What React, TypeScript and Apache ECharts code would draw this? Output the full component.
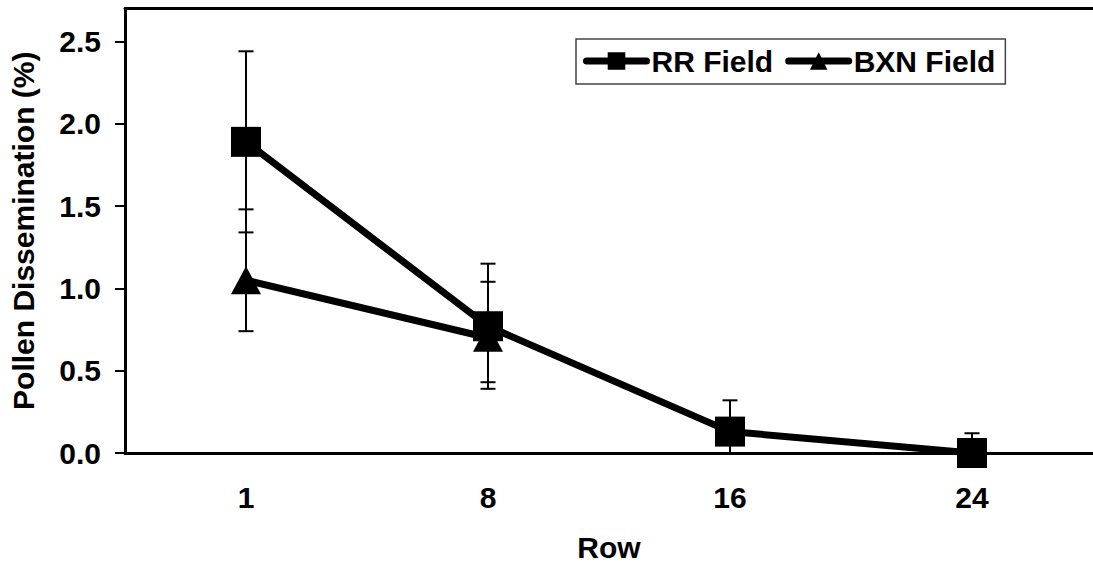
import React, { useEffect, useRef } from "react";
import * as echarts from "echarts";

const categories = ["1", "8", "16", "24"];
const yTickValues = [0, 0.5, 1.0, 1.5, 2.0, 2.5];

const rrValues = [1.89, 0.77, 0.13, 0.0];
const rrLow = [1.34, 0.39, 0.0, 0.0];
const rrHigh = [2.44, 1.15, 0.32, 0.12];

const bxnValues: (number | null)[] = [1.05, 0.7, null, null];
const bxnLow: (number | null)[] = [0.74, 0.43, null, null];
const bxnHigh: (number | null)[] = [1.48, 1.04, null, null];

const FONT = "'Liberation Sans', Arial, sans-serif";
const FS = 30;

function errData(low: (number | null)[], high: (number | null)[]) {
  const out: any[] = [];
  low.forEach((l, i) => {
    const h = high[i];
    if (l != null && h != null) out.push([i, l, h]);
  });
  return out;
}

const renderErr = (params: any, api: any) => {
  const x = api.value(0);
  const lo = api.coord([x, api.value(1)]);
  const hi = api.coord([x, api.value(2)]);
  const hw = 7.5;
  const style = { stroke: "#000", lineWidth: 2 };
  return {
    type: "group",
    children: [
      { type: "line", shape: { x1: hi[0], y1: hi[1], x2: lo[0], y2: lo[1] }, style },
      { type: "line", shape: { x1: hi[0] - hw, y1: hi[1], x2: hi[0] + hw, y2: hi[1] }, style },
      { type: "line", shape: { x1: lo[0] - hw, y1: lo[1], x2: lo[0] + hw, y2: lo[1] }, style },
    ],
  };
};

export default function App() {
  const ref = useRef<HTMLDivElement>(null);
  useEffect(() => {
    if (!ref.current) return;
    const chart = echarts.init(ref.current, null, { renderer: "svg" });
    const txt = { fontFamily: FONT, fontSize: FS, fontWeight: "bold", color: "#000" };
    chart.setOption({
      animation: false,
      backgroundColor: "#fff",
      textStyle: { fontFamily: FONT },
      grid: {
        left: 124,
        top: 8.5,
        bottom: 114,
        right: -2,
        show: false,
      },
      legend: {
        data: ["RR Field", "BXN Field"],
        left: 576,
        top: 39,
        orient: "horizontal",
        padding: [7, 10, 8, 7],
        borderColor: "#444",
        borderWidth: 1.5,
        backgroundColor: "#fff",
        itemWidth: 60,
        itemHeight: 22,
        itemGap: 12,
        lineStyle: { width: 7, cap: "round" },
        textStyle: txt,
      },
      xAxis: [
        {
          type: "category",
          data: categories,
          boundaryGap: true,
          name: "Row",
          nameLocation: "middle",
          nameGap: 79,
          nameTextStyle: txt,
          axisLine: { show: true, lineStyle: { color: "#000", width: 3 } },
          axisTick: { show: false },
          axisLabel: { ...txt, margin: 29 },
          splitLine: { show: false },
        },
        {
          type: "category",
          data: categories,
          position: "top",
          boundaryGap: true,
          axisLine: { show: true, lineStyle: { color: "#000", width: 3 } },
          axisTick: { show: false },
          axisLabel: { show: false },
          splitLine: { show: false },
        },
      ],
      yAxis: {
        type: "value",
        min: 0,
        max: 2.7,
        interval: 0.5,
        name: "Pollen Dissemination (%)",
        nameLocation: "middle",
        nameGap: 87,
        nameTextStyle: txt,
        axisLine: { show: true, lineStyle: { color: "#000", width: 3 } },
        axisTick: {
          show: true,
          length: 10,
          lineStyle: { color: "#000", width: 2 },
          customValues: yTickValues,
        },
        axisLabel: {
          ...txt,
          margin: 24,
          customValues: yTickValues,
          formatter: (v: number) => v.toFixed(1),
        },
        splitLine: { show: false },
      },
      series: [
        {
          type: "custom",
          name: "BXN err",
          renderItem: renderErr,
          data: errData(bxnLow, bxnHigh),
          z: 1,
          silent: true,
        },
        {
          type: "custom",
          name: "RR err",
          renderItem: renderErr,
          data: errData(rrLow, rrHigh),
          z: 1,
          silent: true,
        },
        {
          type: "line",
          name: "BXN Field",
          data: bxnValues,
          symbol: "triangle",
          symbolSize: [30, 28],
          showAllSymbol: true,
          lineStyle: { color: "#000", width: 7, cap: "round" },
          itemStyle: { color: "#000", borderWidth: 0 },
          z: 3,
        },
        {
          type: "line",
          name: "RR Field",
          data: rrValues,
          symbol: "rect",
          symbolSize: 30,
          showAllSymbol: true,
          lineStyle: { color: "#000", width: 7, cap: "round" },
          itemStyle: { color: "#000", borderWidth: 0 },
          z: 4,
        },
      ],
    });
    return () => chart.dispose();
  }, []);
  return (
    <div
      ref={ref}
      style={{ position: "fixed", left: 0, top: 0, width: 1093, height: 567 }}
    />
  );
}
